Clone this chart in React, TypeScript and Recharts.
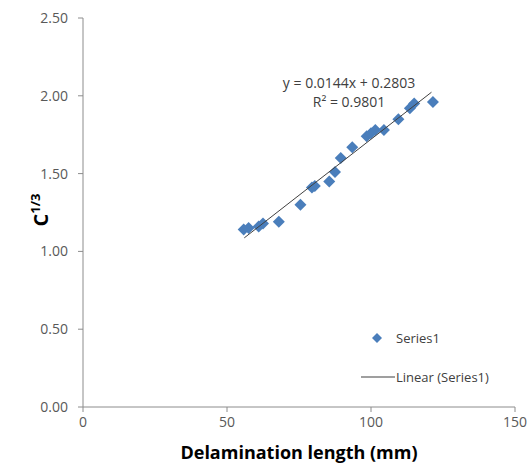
import React from 'react';
import { ScatterChart, Scatter, XAxis, YAxis, Label } from 'recharts';

// delamination length (mm) and C^(1/3)
const lengths = [55.8, 57.5, 61, 62.5, 68, 75.5, 79.5, 80.5, 85.5, 87.5, 89.5, 93.5, 98.5, 100, 101.5, 104.5, 109.5, 113.5, 115, 121.5];
const cubeRoots = [1.14, 1.15, 1.16, 1.18, 1.19, 1.30, 1.41, 1.42, 1.45, 1.51, 1.60, 1.67, 1.74, 1.76, 1.78, 1.78, 1.85, 1.92, 1.95, 1.96];

// trendline end points (y = 0.0144x + 0.2803)
const trendX = [56, 121];
const trendY = [1.087, 2.023];

const xTicks = [0, 50, 100, 150];
const yTicks = [0, 0.5, 1, 1.5, 2, 2.5];

const points = lengths.map((x, i) => ({ x, y: cubeRoots[i] }));
const trend = trendX.map((x, i) => ({ x, y: trendY[i] }));

const FONT = '"Open Sans", Calibri, sans-serif';
const AXIS = '#8c8c8c';

const Diamond = (props: any) => {
  const { cx, cy } = props;
  const r = 6;
  return <path d={`M${cx},${cy - r}L${cx + r},${cy}L${cx},${cy + r}L${cx - r},${cy}Z`} fill="#4a7ebb" />;
};

const LegendBox = () => (
  <div style={{ position: 'absolute', left: 360, top: 328, fontFamily: FONT, fontSize: 13, color: '#404040' }}>
    <div style={{ display: 'flex', alignItems: 'center', height: 20, marginBottom: 19 }}>
      <svg width={36} height={14}>
        <path d="M17,2L22,7L17,12L12,7Z" fill="#4a7ebb" />
      </svg>
      <span>Series1</span>
    </div>
    <div style={{ display: 'flex', alignItems: 'center', height: 20 }}>
      <svg width={36} height={14}>
        <line x1={1} y1={7} x2={35} y2={7} stroke="#404040" strokeWidth={1.2} />
      </svg>
      <span>Linear (Series1)</span>
    </div>
  </div>
);

export default function App() {
  return (
    <div style={{ position: 'absolute', left: 0, top: 0, width: 531, height: 471, background: '#fff' }}>
      <ScatterChart width={531} height={471} margin={{ top: 18, right: 16, bottom: 4, left: 0 }}>
        <XAxis
          type="number"
          dataKey="x"
          domain={[0, 150]}
          ticks={xTicks}
          stroke={AXIS}
          tickSize={5}
          tickMargin={5}
          height={60}
          tick={{ fill: '#595959', fontSize: 14, fontFamily: FONT }}
        >
          <Label
            value="Delamination length (mm)"
            position="insideBottom"
            offset={8}
            style={{ fontFamily: FONT, fontSize: 18, fontWeight: 700, fill: '#000' }}
          />
        </XAxis>
        <YAxis
          type="number"
          dataKey="y"
          domain={[0, 2.5]}
          ticks={yTicks}
          stroke={AXIS}
          width={83}
          tickSize={5}
          tickMargin={10}
          tickFormatter={(v: number) => v.toFixed(2)}
          tick={{ fill: '#595959', fontSize: 14, fontFamily: FONT }}
        />
        <Scatter data={points} shape={<Diamond />} isAnimationActive={false} />
        <Scatter
          data={trend}
          line={{ stroke: '#404040', strokeWidth: 1 }}
          shape={() => <g />}
          isAnimationActive={false}
        />
      </ScatterChart>
      <LegendBox />
      <div
        style={{
          position: 'absolute',
          left: 40,
          top: 210,
          transform: 'translate(-50%, -50%) rotate(-90deg)',
          fontFamily: FONT,
          fontWeight: 700,
          fontSize: 20,
          whiteSpace: 'nowrap',
        }}
      >
        C<sup style={{ fontSize: 13 }}>1/3</sup>
      </div>
      <div
        style={{
          position: 'absolute',
          left: 269,
          top: 73,
          width: 160,
          textAlign: 'center',
          fontFamily: FONT,
          fontSize: 14,
          lineHeight: '19px',
          color: '#404040',
        }}
      >
        y = 0.0144x + 0.2803
        <br />
        R² = 0.9801
      </div>
    </div>
  );
}
